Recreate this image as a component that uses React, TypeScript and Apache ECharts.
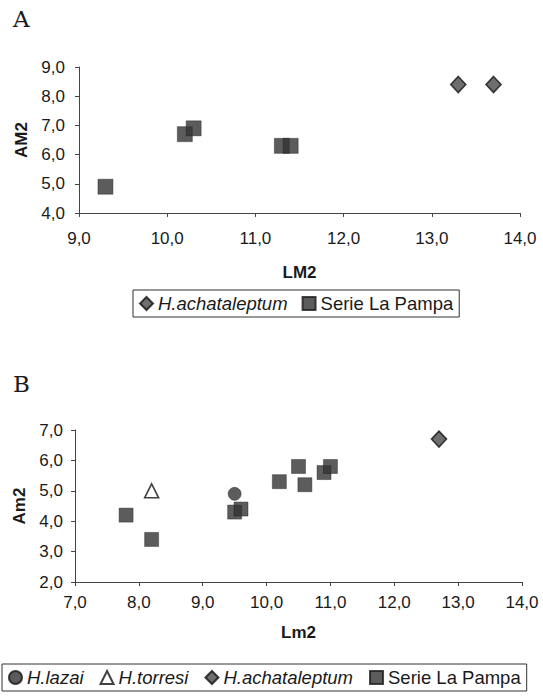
import React, { useEffect, useRef } from "react";
import * as echarts from "echarts";

// Panel A: LM2 vs AM2
const aAchataleptum: [number, number][] = [
  [13.3, 8.4],
  [13.7, 8.4],
];
const aLaPampa: [number, number][] = [
  [9.3, 4.9],
  [10.2, 6.7],
  [10.3, 6.9],
  [11.3, 6.3],
  [11.4, 6.3],
];

// Panel B: Lm2 vs Am2
const bLazai: [number, number][] = [[9.5, 4.9]];
const bTorresi: [number, number][] = [[8.2, 5.0]];
const bAchataleptum: [number, number][] = [[12.7, 6.7]];
const bLaPampa: [number, number][] = [
  [7.8, 4.2],
  [8.2, 3.4],
  [9.5, 4.3],
  [9.6, 4.4],
  [10.2, 5.3],
  [10.5, 5.8],
  [10.6, 5.2],
  [10.9, 5.6],
  [11.0, 5.8],
];

const legendA = ["H.achataleptum", "Serie La Pampa"];
const legendB = ["H.lazai", "H.torresi", "H.achataleptum", "Serie La Pampa"];

const FONT = "'Liberation Sans', Arial, sans-serif";
const fmt = (v: number) => v.toFixed(1).replace(".", ",");

export default function App() {
  const ref = useRef<HTMLDivElement>(null);
  useEffect(() => {
    if (!ref.current) return;
    const chart = echarts.init(ref.current, null, { renderer: "svg" });
    const axisCommon = {
      axisLine: { show: true, lineStyle: { color: "#444", width: 1 } },
      axisTick: { show: true, length: 4, lineStyle: { color: "#444" } },
      splitLine: { show: false },
      axisLabel: {
        formatter: fmt,
        color: "#1a1a1a",
        fontFamily: FONT,
        fontSize: 17,
      },
      nameTextStyle: {
        color: "#1a1a1a",
        fontFamily: FONT,
        fontSize: 17,
        fontWeight: "bold" as const,
      },
    };
    const squareStyle = { color: "#333", borderColor: "#1a1a1a", borderWidth: 0.5 };
    const diamondStyle = { color: "#4a4a4a", borderColor: "#111", borderWidth: 1.6 };
    const legendText = {
      fontFamily: FONT,
      fontSize: 18.5,
      color: "#1a1a1a",
      rich: {
        i: { fontFamily: FONT, fontSize: 18.5, fontStyle: "italic" as const, color: "#1a1a1a" },
        n: { fontFamily: FONT, fontSize: 18.5, color: "#1a1a1a" },
      },
    };
    const legendFmt = (name: string) =>
      name.startsWith("H.") ? `{i|${name}}` : `{n|${name}}`;

    chart.setOption({
      animation: false,
      backgroundColor: "#fff",
      graphic: [
        {
          type: "text",
          left: 13,
          top: 7,
          style: { text: "A", font: "23px 'DejaVu Serif', serif", fill: "#1a1a1a" },
        },
        {
          type: "text",
          left: 13,
          top: 372,
          style: { text: "B", font: "23px 'DejaVu Serif', serif", fill: "#1a1a1a" },
        },
      ],
      grid: [
        { left: 79, right: 23, top: 67, height: 146 },
        { left: 75, right: 21, top: 430, height: 152 },
      ],
      xAxis: [
        {
          ...axisCommon,
          gridIndex: 0,
          type: "value",
          min: 9,
          max: 14,
          interval: 1,
          name: "LM2",
          nameLocation: "middle",
          nameGap: 51,
          axisLabel: { ...axisCommon.axisLabel, margin: 17 },
        },
        {
          ...axisCommon,
          gridIndex: 1,
          type: "value",
          min: 7,
          max: 14,
          interval: 1,
          name: "Lm2",
          nameLocation: "middle",
          nameGap: 42,
          axisLabel: { ...axisCommon.axisLabel, margin: 12 },
        },
      ],
      yAxis: [
        {
          ...axisCommon,
          gridIndex: 0,
          type: "value",
          min: 4,
          max: 9,
          interval: 1,
          name: "AM2",
          nameLocation: "middle",
          nameGap: 40,
          axisLabel: { ...axisCommon.axisLabel, margin: 14 },
        },
        {
          ...axisCommon,
          gridIndex: 1,
          type: "value",
          min: 2,
          max: 7,
          interval: 1,
          name: "Am2",
          nameLocation: "middle",
          nameGap: 39,
          axisLabel: { ...axisCommon.axisLabel, margin: 12 },
        },
      ],
      legend: [
        {
          data: legendA,
          left: 133,
          top: 290,
          orient: "horizontal",
          borderColor: "#333",
          borderWidth: 1,
          borderRadius: 0,
          padding: [4, 6, 4, 6],
          itemGap: 14,
          itemWidth: 13,
          itemHeight: 13,
          textStyle: legendText,
          formatter: legendFmt,
          selectedMode: false,
        },
        {
          data: legendB,
          left: 2,
          top: 664,
          orient: "horizontal",
          borderColor: "#333",
          borderWidth: 1,
          borderRadius: 0,
          padding: [4, 6, 4, 6],
          itemGap: 16,
          itemWidth: 13,
          itemHeight: 13,
          textStyle: legendText,
          formatter: legendFmt,
          selectedMode: false,
        },
      ],
      series: [
        {
          name: "H.achataleptum",
          type: "scatter",
          xAxisIndex: 0,
          yAxisIndex: 0,
          data: aAchataleptum,
          symbol: "diamond",
          symbolSize: [15, 16],
          itemStyle: diamondStyle,
        },
        {
          name: "Serie La Pampa",
          type: "scatter",
          xAxisIndex: 0,
          yAxisIndex: 0,
          data: aLaPampa,
          symbol: "rect",
          symbolSize: 15,
          itemStyle: squareStyle,
        },
        {
          name: "H.lazai",
          type: "scatter",
          xAxisIndex: 1,
          yAxisIndex: 1,
          data: bLazai,
          symbol: "circle",
          symbolSize: 13,
          itemStyle: { color: "#333", borderColor: "#1a1a1a", borderWidth: 0.5 },
        },
        {
          name: "H.torresi",
          type: "scatter",
          xAxisIndex: 1,
          yAxisIndex: 1,
          data: bTorresi,
          symbol: "triangle",
          symbolSize: 14,
          itemStyle: { color: "#fff", borderColor: "#111", borderWidth: 1.6 },
        },
        {
          name: "H.achataleptum",
          type: "scatter",
          xAxisIndex: 1,
          yAxisIndex: 1,
          data: bAchataleptum,
          symbol: "diamond",
          symbolSize: [15, 16],
          itemStyle: diamondStyle,
        },
        {
          name: "Serie La Pampa",
          type: "scatter",
          xAxisIndex: 1,
          yAxisIndex: 1,
          data: bLaPampa,
          symbol: "rect",
          symbolSize: 14,
          itemStyle: squareStyle,
        },
      ],
    });
    return () => chart.dispose();
  }, []);
  return (
    <div
      ref={ref}
      style={{ position: "fixed", left: 0, top: 0, width: 543, height: 696 }}
    />
  );
}
